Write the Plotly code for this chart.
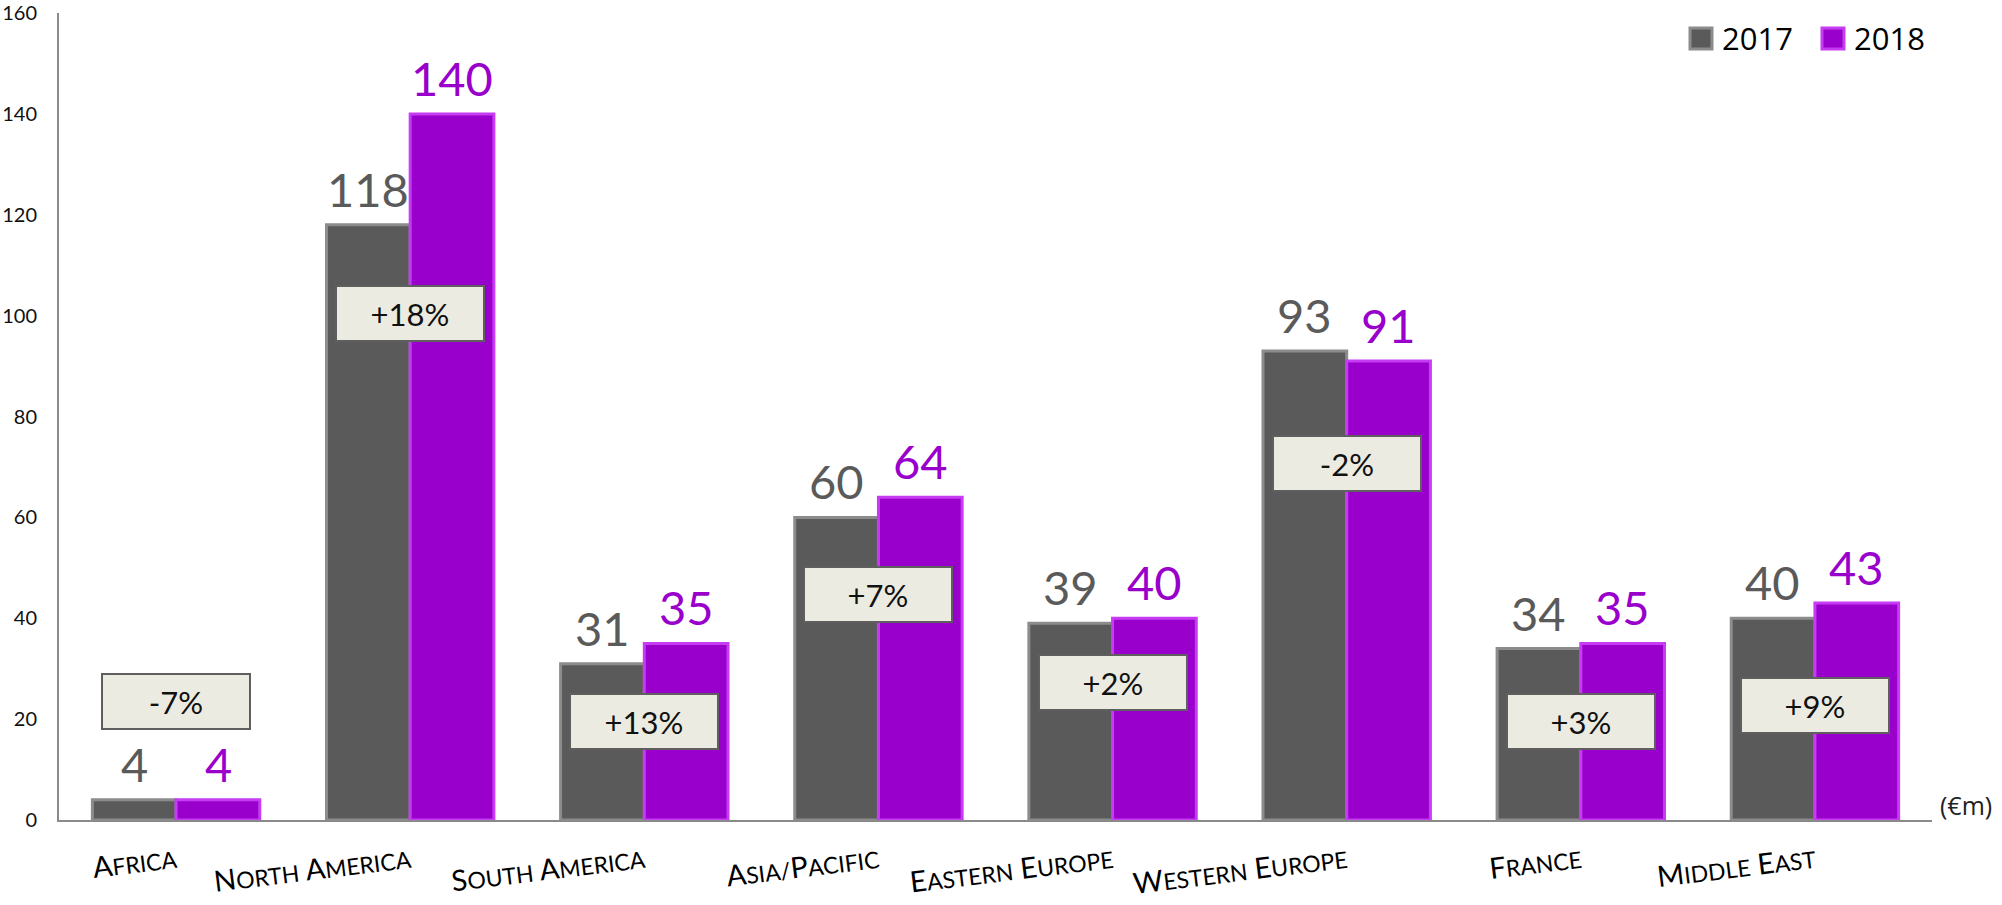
import plotly.graph_objects as go

# Revenue by region (€m)
categories = ["Africa", "North America", "South America", "Asia/Pacific",
              "Eastern Europe", "Western Europe", "France", "Middle East"]
sales_2017 = [4, 118, 31, 60, 39, 93, 34, 40]
sales_2018 = [4, 140, 35, 64, 40, 91, 35, 43]
change_labels = ["-7%", "+18%", "+13%", "+7%", "+2%", "-2%", "+3%", "+9%"]
year_labels = ["2017", "2018"]

# vertical placement of the change boxes (axis units)
change_box_y = [23.5, 100.5, 19.6, 44.8, 27.3, 70.6, 19.6, 22.8]

GREY = "#5a5a5a"
GREY_EDGE = "#8c8c8c"
PURPLE = "#9900cc"
PURPLE_EDGE = "#c53cf2"
LABEL_FONT = "Lato, 'Open Sans', sans-serif"

W, H = 2002, 905
M = dict(l=59, r=70, t=13, b=85)
BAR_PX = 84  # one bar of a pair, in pixels


def small_caps(text, big=29, small=23):
    out = []
    for word in text.split(" "):
        parts = []
        buf = ""
        for ch in word:
            if ch.isupper():
                if buf:
                    parts.append(f"<span style='font-size:{small}px'>{buf.upper()}</span>")
                    buf = ""
                parts.append(f"<span style='font-size:{big}px'>{ch}</span>")
            else:
                buf += ch
        if buf:
            parts.append(f"<span style='font-size:{small}px'>{buf.upper()}</span>")
        out.append("".join(parts))
    return " ".join(out)


fig = go.Figure()
fig.add_trace(go.Bar(
    x=categories, y=sales_2017, name=year_labels[0],
    marker=dict(color=GREY, line=dict(color=GREY_EDGE, width=3)),
    showlegend=False,
))
fig.add_trace(go.Bar(
    x=categories, y=sales_2018, name=year_labels[1],
    marker=dict(color=PURPLE, line=dict(color=PURPLE_EDGE, width=3)),
    showlegend=False,
))

annotations = []
# value labels above each bar
for cat, v17, v18 in zip(categories, sales_2017, sales_2018):
    annotations.append(dict(x=cat, y=v17, text=str(v17), showarrow=False,
                            xshift=-BAR_PX / 2, yanchor="bottom", yshift=6,
                            font=dict(family=LABEL_FONT, size=47, color=GREY)))
    annotations.append(dict(x=cat, y=v18, text=str(v18), showarrow=False,
                            xshift=BAR_PX / 2, yanchor="bottom", yshift=6,
                            font=dict(family=LABEL_FONT, size=47, color=PURPLE)))

# year-over-year change boxes
for cat, lab, yb in zip(categories, change_labels, change_box_y):
    annotations.append(dict(x=cat, y=yb, text=lab, showarrow=False,
                            xanchor="center", yanchor="middle",
                            width=146, height=53, borderpad=0,
                            bgcolor="#ecebe1", bordercolor="#5f5f5f", borderwidth=2,
                            font=dict(family=LABEL_FONT, size=31, color="#111111")))

plot_w = W - M["l"] - M["r"]
plot_h = H - M["t"] - M["b"]


def px_x(px):
    return (px - M["l"]) / plot_w


def px_y(py):
    return (H - M["b"] - py) / plot_h


# unit label at the end of the x axis
annotations.append(dict(xref="paper", yref="paper", x=px_x(1938), y=px_y(805),
                        xanchor="left", yanchor="middle", text="(€m)", showarrow=False,
                        font=dict(family="'Open Sans', sans-serif", size=25, color="#222222")))

# legend drawn by hand: bevelled squares plus year text
shapes = []
legend_items = [(1690, GREY, GREY_EDGE, year_labels[0]), (1822, PURPLE, PURPLE_EDGE, year_labels[1])]
for left, fill, edge, lab in legend_items:
    shapes.append(dict(type="rect", xref="paper", yref="paper",
                       x0=px_x(left), x1=px_x(left + 22), y0=px_y(49), y1=px_y(28),
                       fillcolor=fill, line=dict(color=edge, width=3)))
    annotations.append(dict(xref="paper", yref="paper", x=px_x(left + 30), y=px_y(38),
                            xanchor="left", yanchor="middle", text=lab, showarrow=False,
                            font=dict(family="'Open Sans', sans-serif", size=31, color="#000000")))

fig.update_layout(
    width=W, height=H,
    margin=M,
    paper_bgcolor="white", plot_bgcolor="white",
    barmode="group", bargap=0.285, bargroupgap=0,
    annotations=annotations, shapes=shapes,
    xaxis=dict(
        type="category",
        tickmode="array", tickvals=categories,
        ticktext=[small_caps(c) for c in categories],
        tickangle=-7,
        tickfont=dict(family=LABEL_FONT, size=29, color="#000000"),
        showline=True, linecolor="#8a8a8a", linewidth=2,
        ticks="", showgrid=False, zeroline=False,
        ticklabelstandoff=11, automargin=False,
    ),
    yaxis=dict(
        range=[0, 160], tickmode="linear", tick0=0, dtick=20,
        tickfont=dict(family=LABEL_FONT, size=20, color="#111111"),
        showline=True, linecolor="#8a8a8a", linewidth=2,
        ticks="", showgrid=False, zeroline=False,
        ticklabelstandoff=16, automargin=False,
    ),
)

fig.write_html("out.html")
